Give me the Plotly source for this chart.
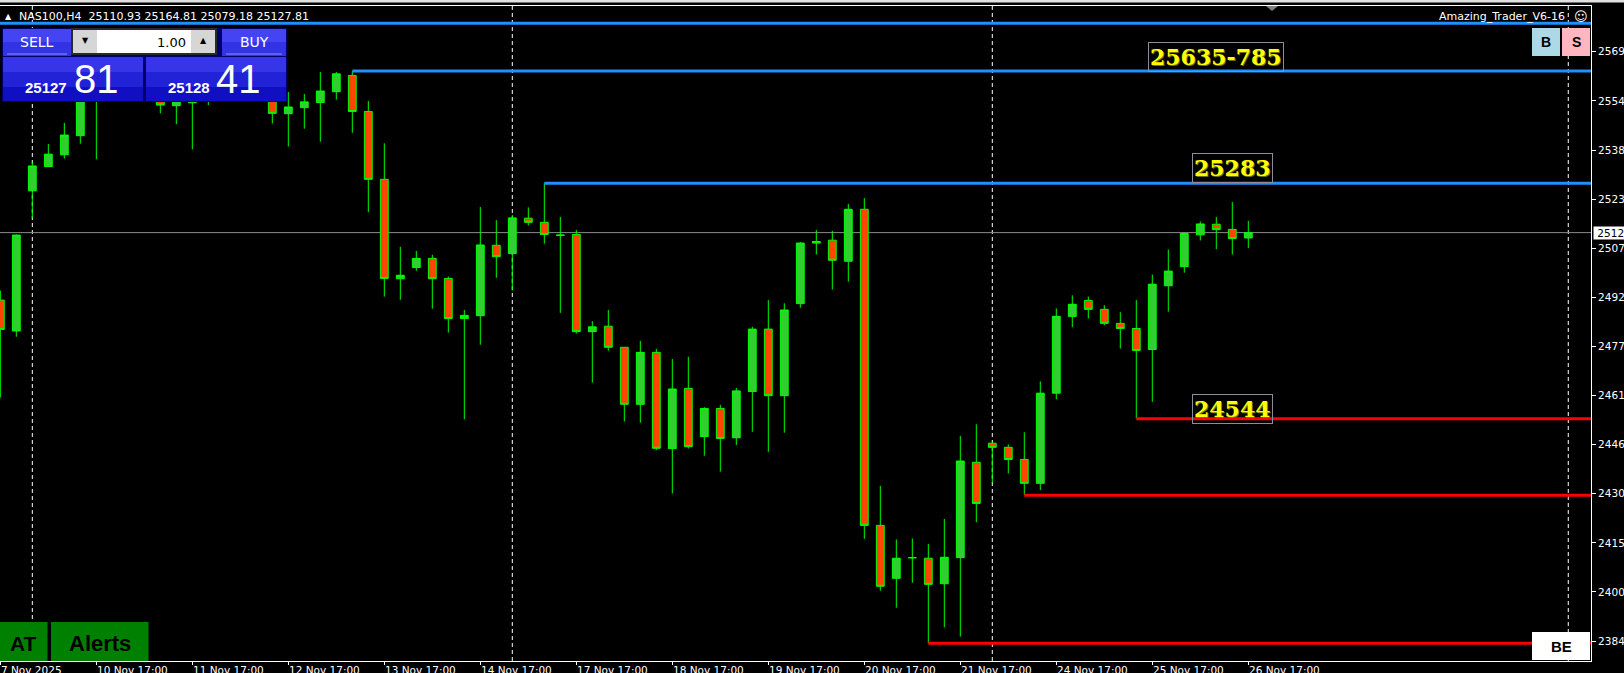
import plotly.graph_objects as go

# H4 bars, index 0 = 7 Nov 17:00
bars = list(range(79))
opens = [24916, 24819, 25259, 25335, 25372, 25432, 25570, 25610, 25590, 25640,
         25600, 25526, 25580, 25545, 25590, 25620, 25600, 25560, 25501, 25520,
         25536, 25570, 25621, 25508, 25295, 24983, 25018, 25047, 24984, 24858,
         24867, 25088, 25062, 25173, 25160, 25119, 25122, 24817, 24834, 24768,
         24589, 24752, 24450, 24639, 24488, 24576, 24484, 24629, 24825, 24616,
         24905, 25095, 25104, 25038, 25201, 24209, 24043, 24107, 24106, 24026,
         24108, 24407, 24467, 24454, 24416, 24341, 24624, 24865, 24915, 24887,
         24843, 24827, 24761, 24961, 25021, 25121, 25154, 25138, 25110.93]
highs = [24946, 25122, 25350, 25406, 25472, 25600, 25660, 25650, 25680, 25690,
         25620, 25610, 25600, 25620, 25660, 25670, 25630, 25590, 25569, 25563,
         25632, 25632, 25635, 25541, 25408, 25083, 25070, 25058, 24990, 24885,
         25208, 25167, 25183, 25207, 25283, 25177, 25136, 24850, 24885, 24768,
         24788, 24763, 24731, 24738, 24580, 24587, 24640, 24832, 24916, 24906,
         25098, 25136, 25133, 25218, 25236, 24333, 24165, 24168, 24151, 24229,
         24490, 24526, 24470, 24463, 24501, 24661, 24890, 24931, 24927, 24900,
         24878, 24916, 24996, 25075, 25128, 25163, 25177, 25224, 25164.81]
lows = [24610, 24801, 25173, 25334, 25360, 25407, 25358, 25560, 25570, 25580,
        25502, 25468, 25389, 25528, 25560, 25570, 25545, 25470, 25398, 25454,
        25413, 25545, 25441, 25192, 24927, 24917, 25008, 24889, 24814, 24542,
        24776, 24986, 24946, 25150, 25093, 24876, 24811, 24657, 24757, 24535,
        24531, 24445, 24309, 24450, 24428, 24378, 24461, 24503, 24440, 24500,
        24892, 25059, 24949, 24974, 24167, 24004, 23951, 24029, 23839, 23889,
        23860, 24219, 24343, 24372, 24304, 24320, 24605, 24831, 24858, 24837,
        24764, 24545, 24597, 24880, 25002, 25103, 25076, 25059, 25079.18]
closes = [24824, 25120, 25337, 25374, 25434, 25570, 25610, 25590, 25640, 25600,
          25528, 25580, 25535, 25590, 25620, 25600, 25560, 25502, 25522, 25538,
          25572, 25626, 25508, 25295, 24984, 24994, 25047, 24983, 24858, 24868,
          25089, 25052, 25174, 25160, 25122, 25120, 24817, 24832, 24768, 24589,
          24752, 24451, 24637, 24456, 24576, 24482, 24631, 24825, 24616, 24885,
          25095, 25100, 25041, 25201, 24209, 24018, 24106, 24108, 24024, 24109,
          24411, 24278, 24454, 24416, 24341, 24624, 24865, 24903, 24887, 24843,
          24827, 24758, 24966, 25007, 25125, 25155, 25137, 25109, 25127.81]

price_ticks = [23846.0, 24000.1, 24154.2, 24308.3, 24462.4, 24616.5, 24770.6,
               24924.7, 25078.8, 25232.9, 25387.0, 25541.1, 25695.2]
price_tick_text = ["23846.00", "24000.10", "24154.20", "24308.30", "24462.40",
                   "24616.50", "24770.60", "24924.70", "25078.80", "25232.90",
                   "25387.00", "25541.10", "25695.20"]
time_tick_bars = [0, 6, 12, 18, 24, 30, 36, 42, 48, 54, 60, 66, 72, 78]
time_tick_text = ["7 Nov 2025", "10 Nov 17:00", "11 Nov 17:00", "12 Nov 17:00",
                  "13 Nov 17:00", "14 Nov 17:00", "17 Nov 17:00", "18 Nov 17:00",
                  "19 Nov 17:00", "20 Nov 17:00", "21 Nov 17:00", "24 Nov 17:00",
                  "25 Nov 17:00", "26 Nov 17:00"]
separator_bars = [2, 32, 62, 98]

blue_levels = [25785, 25635, 25283]
blue_starts = [-5, 22, 34]
red_levels = [24544, 24304, 23839]
red_starts = [71, 64, 58]

zone_labels = ["25635-785", "25283", "24544"]
zone_label_bars = [76, 77, 77]
zone_label_prices = [25635, 25283, 24544]

symbol = "NAS100,H4"
header_ohlc = ["25110.93", "25164.81", "25079.18", "25127.81"]
last_price = 25127.81
bid_big, bid_small = "25127", "81"
ask_big, ask_small = "25128", "41"
lot = "1.00"

FONT = "DejaVu Sans"
ARIAL = "Liberation Sans"

# plot area in pixels: x 0..1591, y 6..661
def px(x):
    return x / 1591


def py(y):
    return (661 - y) / 655


shapes = []
annotations = []


def rect(x0, y0, x1, y1, fill, line=None, lw=0):
    shapes.append(dict(type="rect", xref="paper", yref="paper",
                       x0=px(x0), x1=px(x1), y0=py(y1), y1=py(y0),
                       fillcolor=fill, line=dict(color=line or fill, width=lw),
                       layer="above"))


def label(x, y, text, size, color="white", anchor="center", family=FONT, weight="normal"):
    annotations.append(dict(xref="paper", yref="paper", x=px(x), y=py(y), text=text,
                            showarrow=False, xanchor=anchor, yanchor="middle", borderpad=0,
                            font=dict(family=family, size=size, color=color, weight=weight)))


fig = go.Figure()

fig.add_trace(go.Candlestick(
    x=bars, open=opens, high=highs, low=lows, close=closes,
    increasing=dict(line=dict(color="#00ff00", width=1), fillcolor="#32cd32"),
    decreasing=dict(line=dict(color="#00ff00", width=1), fillcolor="#ff4500"),
    whiskerwidth=0, hoverinfo="skip", showlegend=False))

for lvl, start in zip(blue_levels, blue_starts):
    fig.add_trace(go.Scatter(x=[start, 130], y=[lvl, lvl], mode="lines",
                             line=dict(color="#1e90ff", width=3), hoverinfo="skip", showlegend=False))
for lvl, start in zip(red_levels, red_starts):
    fig.add_trace(go.Scatter(x=[start, 130], y=[lvl, lvl], mode="lines",
                             line=dict(color="#ff0000", width=3), hoverinfo="skip", showlegend=False))

# week separators and last price line
for b in separator_bars:
    shapes.append(dict(type="line", xref="x", yref="paper", x0=b, x1=b, y0=0, y1=1,
                       line=dict(color="white", width=1, dash="4px,3px"), layer="below"))
shapes.append(dict(type="line", xref="paper", yref="y", x0=0, x1=1, y0=last_price, y1=last_price,
                   line=dict(color="#8c8c8c", width=1), layer="below"))

# window top strip and chart-shift marker
rect(0, 0, 1624, 2.5, "#e0e0e0")
shapes.append(dict(type="path", xref="paper", yref="paper", layer="above",
                   path=f"M {px(1266)},{py(6)} L {px(1278)},{py(6)} L {px(1272)},{py(11)} Z",
                   fillcolor="#808080", line=dict(color="#808080", width=0)))

# header
label(8, 16, "▲", 8)
label(18, 16, f"{symbol}  {' '.join(header_ohlc)}", 11, anchor="left")
label(1566, 16, "Amazing_Trader_V6-16", 11, anchor="right")
label(1581, 16, "☺", 13)

# one-click trading panel
rect(2, 28, 287, 102, "#00006a")
rect(3, 29, 71, 42, "#4444f2")
rect(3, 42, 71, 56, "#3333e6")
shapes.append(dict(type="line", xref="paper", yref="paper", x0=px(7), x1=px(67), y0=py(54), y1=py(54),
                   line=dict(color="#8f8ff8", width=1), layer="above"))
rect(222, 29, 286, 42, "#4444f2")
rect(222, 42, 286, 56, "#3333e6")
shapes.append(dict(type="line", xref="paper", yref="paper", x0=px(226), x1=px(282), y0=py(54), y1=py(54),
                   line=dict(color="#8f8ff8", width=1), layer="above"))
rect(71, 28, 217, 55, "#2a2a2a")
rect(73, 30, 97, 53, "#d6d6d6")
rect(97, 30, 191, 53, "#ffffff")
rect(191, 30, 215, 53, "#d6d6d6")
for x0, x1 in [(3, 143), (146, 286)]:
    rect(x0, 57, x1, 72, "#3636e8")
    rect(x0, 72, x1, 87, "#2222d6")
    rect(x0, 87, x1, 101, "#1010c2")
label(37, 42, "SELL", 14)
label(254, 42, "BUY", 14)
label(85, 41, "▼", 8, color="black")
label(203, 41, "▲", 8, color="black")
label(187, 42, lot, 13, color="black", anchor="right")
label(68, 87, bid_big, 15, anchor="right", family=ARIAL, weight="bold")
label(73, 79, bid_small, 40, anchor="left", family=ARIAL)
label(211, 87, ask_big, 15, anchor="right", family=ARIAL, weight="bold")
label(215, 79, ask_small, 40, anchor="left", family=ARIAL)

# B / S buttons
rect(1532, 28, 1560, 56, "#add8e6")
rect(1562, 28, 1590, 56, "#ffb6c1")
label(1546, 42, "B", 14, color="black", family=ARIAL, weight="bold")
label(1576, 42, "S", 14, color="black", family=ARIAL, weight="bold")

# BE, AT, Alerts
rect(1532, 632, 1590, 660, "#ffffff")
label(1561, 646, "BE", 15, color="black", family=ARIAL, weight="bold")
rect(0, 622, 47.5, 661, "#008000")
rect(51, 622, 148.5, 661, "#008000")
label(23.5, 643, "AT", 21, color="black", family=ARIAL, weight="bold")
label(100, 643, "Alerts", 22, color="black", family=ARIAL, weight="bold")

# zone labels
for text, b, p, shift in zip(zone_labels, zone_label_bars, zone_label_prices, [-1.5, 0, -5]):
    annotations.append(dict(xref="x", yref="y", x=b, y=p, text=text, showarrow=False,
                            xanchor="center", yanchor="bottom", yshift=shift,
                            bordercolor="#8c8c9c", borderwidth=1, borderpad=1,
                            font=dict(family="DejaVu Serif", size=22, color="#ffff00", weight="bold",
                                      shadow="1px 1px 0px #6e6e00")))

# last price tag on the scale
annotations.append(dict(xref="paper", yref="y", x=1, y=last_price, text=f" {last_price:.2f}",
                        showarrow=False, xanchor="left", yanchor="middle", xshift=2,
                        bgcolor="white", borderpad=0,
                        font=dict(family=FONT, size=10.5, color="black")))

# time labels (MT4 left-aligns them on the tick)
for b, t in zip(time_tick_bars, time_tick_text):
    annotations.append(dict(xref="x", yref="paper", x=b, y=0, text=t, showarrow=False,
                            xanchor="left", yanchor="top", yshift=-2, borderpad=0,
                            font=dict(family=FONT, size=10.5, color="white")))

fig.update_layout(
    width=1624, height=673,
    margin=dict(l=0, r=33, t=6, b=12),
    paper_bgcolor="black", plot_bgcolor="black",
    showlegend=False,
    shapes=shapes, annotations=annotations,
    xaxis=dict(range=[-0.02, 99.42], rangeslider=dict(visible=False), showgrid=False,
               zeroline=False, showline=True, linecolor="white", linewidth=1, mirror=True,
               tickmode="array", tickvals=time_tick_bars, showticklabels=False,
               ticks="outside", ticklen=3, tickcolor="white", automargin=False),
    yaxis=dict(range=[23783.5, 25838.9], side="right", showgrid=False, zeroline=False,
               showline=True, linecolor="white", linewidth=1,
               tickmode="array", tickvals=price_ticks, ticktext=price_tick_text,
               ticks="outside", ticklen=4, tickcolor="white",
               tickfont=dict(family=FONT, size=10.5, color="white"), automargin=False),
)

fig.write_html("out.html", config={"displayModeBar": False},
               post_script="document.body.style.margin='0';document.body.style.overflow='hidden';")
